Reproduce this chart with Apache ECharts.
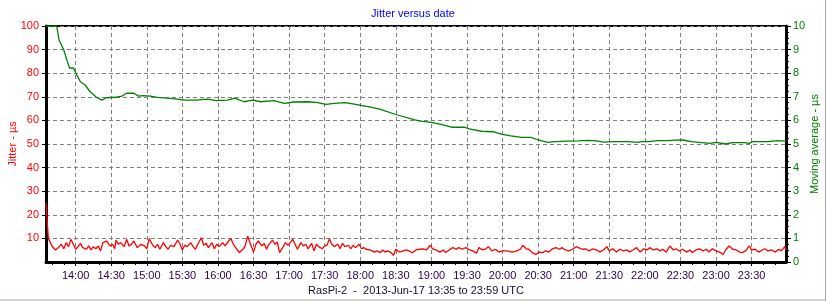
<!DOCTYPE html>
<html><head><meta charset="utf-8">
<script src="https://cdn.jsdelivr.net/npm/echarts@6/dist/echarts.min.js"></script>
<style>html,body{margin:0;padding:0;background:#fff}#c{width:826px;height:301px}</style>
</head><body><div id="c"></div>
<script>
// Time axis range (minutes since midnight): 13:35 .. 23:59
var startTime = '13:35';
var endTime = '23:59';
var timeTickLabels = ['14:00','14:30','15:00','15:30','16:00','16:30','17:00','17:30','18:00','18:30','19:00','19:30','20:00','20:30','21:00','21:30','22:00','22:30','23:00','23:30'];
var minorTickTimes = ['13:40','13:50','14:00','14:10','14:20','14:30','14:40','14:50','15:00','15:10','15:20','15:30','15:40','15:50','16:00','16:10','16:20','16:30','16:40','16:50','17:00','17:10','17:20','17:30','17:40','17:50','18:00','18:10','18:20','18:30','18:40','18:50','19:00','19:10','19:20','19:30','19:40','19:50','20:00','20:10','20:20','20:30','20:40','20:50','21:00','21:10','21:20','21:30','21:40','21:50','22:00','22:10','22:20','22:30','22:40','22:50','23:00','23:10','23:20','23:30','23:40','23:50'];

// Jitter (µs) : [minute of day, value]
var jitterData = [[815,25],[816,17],[817,10],[818,9.6],[820,6.8],[823,5.1],[826,6.4],[828,7.5],[830,5.6],[832,8.2],[834,6.5],[836,9.6],[838,7.5],[840,5.4],[842,6.5],[844,7.9],[846,6.1],[849,5.4],[851,6.8],[853,5.1],[855,6.5],[857,5.6],[859,6.8],[861,4.7],[863,8.2],[866,8.9],[869,6.8],[871,7.5],[873,5.6],[874,9.3],[876,7.5],[878,8.2],[881,6.5],[883,9.6],[885,6.8],[887,7.5],[889,8.9],[892,6.1],[895,7.5],[898,6.8],[900,5.6],[902,9.9],[905,7.1],[907,6.1],[909,7.5],[911,5.4],[914,8.2],[916,6.5],[918,5.4],[920,7.1],[923,6.5],[926,9.3],[928,7.5],[930,5.1],[932,7.1],[934,6.5],[937,8.2],[939,6.5],[941,5.4],[943,7.5],[946,10.3],[948,7.1],[950,7.9],[952,6.1],[955,8.2],[957,5.6],[959,7.5],[961,6.5],[964,8.2],[966,6.8],[969,8.9],
[971,9.9],[973,7.5],[976,5.4],[978,4.0],[981,5.4],[983,6.8],[985,11],[986,9.6],[988,6.8],[990,4.2],[992,7.5],[994,8.9],[997,6.8],[999,7.9],[1001,5.4],[1003,7.5],[1006,9.3],[1008,7.5],[1010,8.5],[1012,4.0],[1015,6.5],[1017,8.2],[1019,7.1],[1021,8.2],[1023,9.6],[1025,7.5],[1027,5.4],[1030,8.2],[1032,6.8],[1034,7.5],[1036,5.6],[1039,7.9],[1041,4.7],[1043,7.5],[1045,6.5],[1048,5.6],[1050,6.8],[1052,7.1],[1054,9.9],[1056,7.5],[1058,6.5],[1061,7.5],[1063,5.6],[1065,7.9],[1067,6.5],[1070,7.1],[1072,5.6],[1074,7.1],[1076,6.1],[1079,7.5],[1081,5.6],[1083,6.1],[1085,5.4],[1088,5.1],[1090,4.7],[1092,4.2],[1094,4.7],[1097,4.0],[1099,5.1],[1101,4.2],[1103,4.7],[1106,4.0],[1108,2.8],[1110,5.4],[1113,4.2],[1116,4.7],[1119,5.1],[1121,4.7],[1124,3.9],
[1127,5.1],[1130,5.4],[1133,5.6],[1136,5.1],[1139,7.1],[1141,5.6],[1144,5.1],[1147,4.2],[1150,5.1],[1152,4.0],[1155,5.1],[1158,6.1],[1161,5.4],[1163,6.1],[1166,5.4],[1169,6.1],[1172,5.1],[1175,4.7],[1178,3.7],[1180,6.1],[1183,5.1],[1186,5.6],[1188,6.5],[1191,4.7],[1194,5.4],[1197,4.2],[1200,4.7],[1204,4.7],[1208,4.2],[1212,4.7],[1215,5.4],[1217,7.1],[1220,5.6],[1222,5.4],[1225,4.0],[1228,3.2],[1231,4.2],[1234,4.0],[1236,4.7],[1239,4.2],[1242,5.6],[1245,6.1],[1248,5.4],[1250,6.1],[1253,5.1],[1256,4.7],[1259,5.4],[1262,6.5],[1264,6.1],[1267,5.4],[1270,5.6],[1273,4.7],[1276,5.6],[1280,4.9],
[1282,4.2],[1285,5.1],[1288,6.5],[1290,4.7],[1293,5.6],[1296,4.2],[1299,5.4],[1302,4.7],[1305,5.1],[1307,4.2],[1310,5.1],[1313,6.1],[1316,4.2],[1319,5.6],[1322,5.1],[1324,6.1],[1327,5.1],[1330,5.6],[1333,4.7],[1335,5.4],[1338,4.2],[1341,6.8],[1344,5.1],[1346,5.6],[1349,4.7],[1352,5.4],[1355,4.2],[1358,5.1],[1360,4.0],[1363,5.1],[1366,5.6],[1369,4.7],[1372,5.4],[1374,4.2],[1377,5.6],[1380,4.7],[1383,4.2],[1386,3.2],[1388,5.1],[1391,6.8],[1394,5.4],[1397,5.1],[1400,4.2],[1402,4.0],[1405,4.7],[1408,6.8],[1410,5.1],[1413,5.4],[1416,4.2],[1419,5.1],[1421,5.6],[1424,4.7],[1427,5.1],[1430,4.2],[1433,5.4],[1435,4.7],[1438,6.5],[1439,5.0]];

// Moving average (µs), right axis
var avgMinutes = [815,824,826,830,833,835,838,841,844,848,852,857,862,866,873,879,883,889,893,897,903,909,917,926,931,942,951,959,968,974,982,989,996,1007,1016,1024,1036,1044,1051,1058,1067,1075,1083,1090,1097,1110,1126,1131,1140,1148,1157,1168,1172,1182,1192,1199,1207,1216,1224,1230,1238,1244,1255,1264,1272,1279,1285,1295,1306,1307,1314,1317,1323,1331,1340,1345,1352,1359,1368,1375,1380,1388,1394,1404,1408,1411,1424,1425,1432,1433,1439];
var avgValues = [10,10,9.41,8.98,8.49,8.21,8.23,7.92,7.64,7.5,7.22,7.0,6.86,6.96,6.98,7.03,7.15,7.15,7.03,7.05,7.03,6.98,6.94,6.9,6.86,6.86,6.9,6.84,6.86,6.94,6.79,6.86,6.79,6.84,6.72,6.78,6.79,6.75,6.68,6.72,6.75,6.69,6.62,6.55,6.47,6.25,6.02,5.97,5.92,5.83,5.71,5.71,5.64,5.54,5.52,5.42,5.34,5.28,5.28,5.17,5.07,5.1,5.12,5.13,5.15,5.13,5.08,5.1,5.1,5.07,5.07,5.1,5.1,5.14,5.14,5.16,5.17,5.1,5.06,5.03,5.07,5.0,5.06,5.06,5.03,5.1,5.1,5.14,5.14,5.1,5.12];

function toMin(s){var p=s.split(':');return +p[0]*60+ +p[1];}
function fmt(m){var h=Math.floor(m/60),mm=m%60;return h+':'+(mm<10?'0':'')+mm;}
var F='"Liberation Sans", Arial, sans-serif';
var xMin=toMin(startTime), xMax=toMin(endTime);
var majorX=timeTickLabels.map(toMin), minorX=minorTickTimes.map(toMin);

var chart=echarts.init(document.getElementById('c'),null,{renderer:'canvas'});
chart.setOption({
  animation:false,
  backgroundColor:'#fff',
  title:{text:'Jitter versus date',left:'center',top:3,textStyle:{color:'#0000ff',fontFamily:F,fontSize:11,fontWeight:'normal'}},
  grid:{left:46,top:26,width:740,height:236,show:true,borderColor:'#000',borderWidth:2,backgroundColor:'transparent',containLabel:false,outerBoundsMode:'none'},
  xAxis:[{
    type:'value',min:xMin,max:xMax,position:'bottom',
    name:'RasPi-2  -  2013-Jun-17 '+startTime+' to '+endTime+' UTC',
    nameLocation:'middle',nameGap:23,nameMoveOverlap:false,
    nameTextStyle:{color:'#101030',fontFamily:F,fontSize:11},
    axisLine:{show:true,onZero:false,lineStyle:{color:'#000',width:3}},
    axisTick:{show:true,customValues:majorX,length:4,lineStyle:{color:'#000',width:1}},
    axisLabel:{customValues:majorX,formatter:fmt,color:'#300050',fontFamily:F,fontSize:11,margin:8},
    splitLine:{show:true,lineStyle:{color:'#808080',type:[4,3],width:1}}
  },{
    type:'value',min:xMin,max:xMax,position:'bottom',
    axisLine:{show:false},
    axisTick:{show:true,customValues:minorX,length:3,lineStyle:{color:'#000',width:1}},
    axisLabel:{show:false},splitLine:{show:false}
  }],
  yAxis:[{
    type:'value',min:0,max:100,interval:10,position:'left',
    name:'Jitter - µs',nameLocation:'middle',nameGap:28,nameRotate:90,nameMoveOverlap:false,
    nameTextStyle:{color:'#ff0000',fontFamily:F,fontSize:11},
    axisLine:{show:true,lineStyle:{color:'#000',width:3}},
    axisTick:{show:true,length:4,lineStyle:{color:'#000'}},
    axisLabel:{showMinLabel:false,color:'#ff0000',fontFamily:F,fontSize:11,margin:7},
    splitLine:{show:true,lineStyle:{color:'#808080',type:[4,3],width:1}}
  },{
    type:'value',min:0,max:10,interval:1,position:'right',
    name:'Moving average - µs',nameLocation:'middle',nameGap:23,nameRotate:90,nameMoveOverlap:false,
    nameTextStyle:{color:'#008000',fontFamily:F,fontSize:11},
    axisLine:{show:true,lineStyle:{color:'#000',width:3}},
    axisTick:{show:true,length:5,lineStyle:{color:'#000'}},
    minorTick:{show:true,splitNumber:4,length:3,lineStyle:{color:'#000'}},
    axisLabel:{color:'#008000',fontFamily:F,fontSize:11,margin:7},
    splitLine:{show:false}
  }],
  series:[{
    type:'line',name:'Jitter',xAxisIndex:0,yAxisIndex:0,showSymbol:false,
    data:jitterData,lineStyle:{color:'#ff0000',width:1.3},clip:true
  },{
    type:'line',name:'Moving average',xAxisIndex:0,yAxisIndex:1,showSymbol:false,
    data:avgMinutes.map(function(t,i){return [t,avgValues[i]];}),lineStyle:{color:'#008000',width:1.3},clip:true
  }],
  graphic:[
    {type:'line',shape:{x1:0,y1:300,x2:826,y2:300},style:{stroke:'#aca899',lineWidth:1}},
    {type:'line',shape:{x1:825.5,y1:0,x2:825.5,y2:301},style:{stroke:'#aca899',lineWidth:1}}
  ]
});
</script></body></html>
